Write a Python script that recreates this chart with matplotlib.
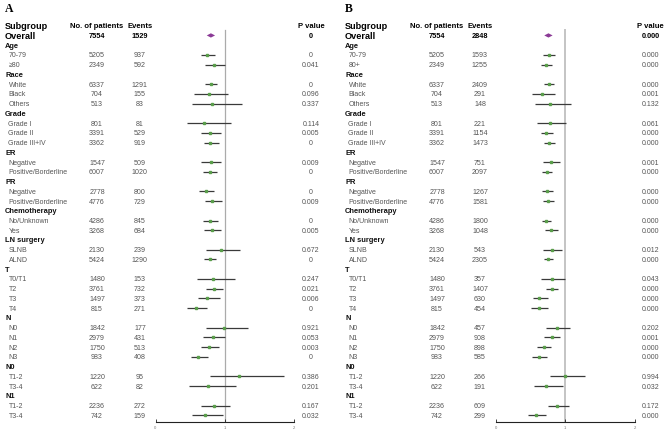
import matplotlib
matplotlib.use("Agg")
import matplotlib.pyplot as plt
from matplotlib import transforms

plt.rcParams['font.family'] = ['Liberation Sans', 'DejaVu Sans']

# ---------------- data ----------------
labels_A = ["Overall", "Age", "70-79", "≥80", "Race", "White", "Black", "Others",
            "Grade", "Grade I", "Grade II", "Grade III+IV", "ER", "Negative",
            "Positive/Borderline", "PR", "Negative", "Positive/Borderline",
            "Chemotherapy", "No/Unknown", "Yes", "LN surgery", "SLNB", "ALND",
            "T", "T0/T1", "T2", "T3", "T4", "N", "N0", "N1", "N2", "N3",
            "N0", "T1-2", "T3-4", "N1", "T1-2", "T3-4"]
labels_B = ["Overall", "Age", "70-79", "80+", "Race", "White", "Black", "Others",
            "Grade", "Grade I", "Grade II", "Grade III+IV", "ER", "Negative",
            "Positive/Borderline", "PR", "Negative", "Positive/Borderline",
            "Chemotherapy", "No/Unknown", "Yes", "LN surgery", "SLNB", "ALND",
            "T", "T0/T1", "T2", "T3", "T4", "N", "N0", "N1", "N2", "N3",
            "N0", "T1-2", "T3-4", "N1", "T1-2", "T3-4"]
row_kind = ["overall", "group", "item", "item", "group", "item", "item", "item",
            "group", "item", "item", "item", "group", "item", "item",
            "group", "item", "item", "group", "item", "item", "group", "item", "item",
            "group", "item", "item", "item", "item", "group", "item", "item", "item", "item",
            "group", "item", "item", "group", "item", "item"]

patients = [7554, 5205, 2349, 6337, 704, 513, 801, 3391, 3362, 1547, 6007,
            2778, 4776, 4286, 3268, 2130, 5424, 1480, 3761, 1497, 815,
            1842, 2979, 1750, 983, 1220, 622, 2236, 742]
events_A = [1529, 937, 592, 1291, 155, 83, 81, 529, 919, 509, 1020,
            800, 729, 845, 684, 239, 1290, 153, 732, 373, 271,
            177, 431, 513, 408, 95, 82, 272, 159]
events_B = [2848, 1593, 1255, 2409, 291, 148, 221, 1154, 1473, 751, 2097,
            1267, 1581, 1800, 1048, 543, 2305, 357, 1407, 630, 454,
            457, 908, 898, 585, 266, 191, 609, 299]

hr_A = [0.80, 0.75, 0.84, 0.80, 0.77, 0.81, 0.70, 0.79, 0.79, 0.80, 0.79, 0.73, 0.82,
        0.78, 0.81, 0.95, 0.78, 0.83, 0.84, 0.75, 0.59, 0.99, 0.83, 0.77, 0.62,
        1.20, 0.76, 0.85, 0.71]
lo_A = [0.74, 0.66, 0.72, 0.71, 0.56, 0.53, 0.45, 0.66, 0.70, 0.66, 0.69, 0.63, 0.71,
        0.68, 0.70, 0.73, 0.70, 0.60, 0.73, 0.61, 0.46, 0.73, 0.68, 0.65, 0.51,
        0.79, 0.49, 0.66, 0.52]
hi_A = [0.86, 0.86, 1.00, 0.89, 1.05, 1.25, 1.09, 0.94, 0.91, 0.95, 0.89, 0.84, 0.96,
        0.90, 0.94, 1.22, 0.87, 1.15, 0.97, 0.93, 0.75, 1.34, 1.01, 0.92, 0.76,
        1.85, 1.16, 1.08, 0.98]
p_A = ["0", "0", "0.041", "0", "0.096", "0.337", "0.114", "0.005", "0", "0.009", "0",
       "0", "0.009", "0", "0.005", "0.672", "0", "0.247", "0.021", "0.006", "0",
       "0.921", "0.053", "0.003", "0", "0.386", "0.201", "0.167", "0.032"]

hr_B = [0.76, 0.77, 0.73, 0.77, 0.67, 0.78, 0.78, 0.73, 0.77, 0.79, 0.74, 0.74, 0.76,
        0.72, 0.80, 0.81, 0.75, 0.81, 0.81, 0.63, 0.63, 0.88, 0.81, 0.69, 0.63,
        1.00, 0.73, 0.89, 0.58]
lo_B = [0.70, 0.68, 0.65, 0.70, 0.53, 0.56, 0.59, 0.65, 0.69, 0.68, 0.67, 0.66, 0.68,
        0.66, 0.71, 0.68, 0.69, 0.65, 0.73, 0.54, 0.51, 0.73, 0.70, 0.60, 0.53,
        0.78, 0.55, 0.75, 0.46]
hi_B = [0.82, 0.85, 0.81, 0.84, 0.86, 1.09, 1.02, 0.82, 0.85, 0.92, 0.81, 0.82, 0.84,
        0.79, 0.90, 0.96, 0.82, 1.00, 0.90, 0.75, 0.75, 1.07, 0.92, 0.79, 0.74,
        1.28, 0.97, 1.05, 0.73]
p_B = ["0.000", "0.000", "0.000", "0.000", "0.001", "0.132", "0.061", "0.000", "0.000",
       "0.001", "0.000", "0.000", "0.000", "0.000", "0.000", "0.012", "0.000", "0.043",
       "0.000", "0.000", "0.000", "0.202", "0.001", "0.000", "0.000", "0.994", "0.032",
       "0.172", "0.000"]

xticks = [0, 1, 2]
header = ["Subgroup", "No. of patients", "Events", "P value"]

# ---------------- layout ----------------
W, H = 669, 435
fig = plt.figure(figsize=(W / 100, H / 100), dpi=100)
fig.patch.set_facecolor("white")

ROW0 = 26.7      # header row pixel y
STEP = 9.74      # pixels per row
AX_TOP = 10.0
AX_BOT = 422.5

GRAY = "#555555"
LINE = "#3a3a3a"
GREEN = "#5a9e4b"
PURPLE = "#8b3a96"


def panel(letter, x0, labels, events, hr, lo, hi, pv, fx0, fx1, pat_x, ev_x, p_x,
          ref_color, ref_lw):
    ax = fig.add_axes([fx0 / W, 1 - AX_BOT / H, (fx1 - fx0) / W, (AX_BOT - AX_TOP) / H])
    rtop = (AX_TOP - ROW0) / STEP
    rbot = (AX_BOT - ROW0) / STEP
    ax.set_ylim(rbot, rtop)
    ax.set_xlim(0, 2)
    ax.patch.set_alpha(0)
    for s in ["top", "left", "right"]:
        ax.spines[s].set_visible(False)
    ax.spines["bottom"].set_linewidth(0.8)
    ax.spines["bottom"].set_color("#222222")
    ax.set_yticks([])
    ax.set_xticks(xticks)
    ax.set_xticklabels([str(t) for t in xticks])
    ax.tick_params(axis="x", direction="in", length=2.5, width=0.6, labelsize=3,
                   labelcolor="#777777", pad=2.5, color="#222222")

    tr = transforms.blended_transform_factory(fig.transFigure, ax.transData)

    def tx(px, y, s, **kw):
        ax.text(px / W, y, s, transform=tr, va="center", clip_on=False, **kw)

    # panel letter
    fig.text(x0 / W, 1 - 9.5 / H, letter, family="Liberation Serif", weight="bold",
             fontsize=8.5, va="center", ha="left")
    # header
    tx(x0, 0, header[0], weight="bold", fontsize=6.6, ha="left")
    tx(pat_x, 0, header[1], weight="bold", fontsize=5.5, ha="center")
    tx(ev_x, 0, header[2], weight="bold", fontsize=5.5, ha="center")
    tx(p_x, 0, header[3], weight="bold", fontsize=5.5, ha="center")

    rows = []
    k = 0
    for i, (lab, kind) in enumerate(zip(labels, row_kind)):
        r = i + 1
        if kind == "group":
            tx(x0, r, lab, weight="bold", fontsize=5.4, ha="left", color="#111111")
            continue
        if kind == "overall":
            tx(x0, r, lab, weight="bold", fontsize=6.6, ha="left")
            tx(pat_x, r, str(patients[k]), weight="bold", fontsize=5.3, ha="center")
            tx(ev_x, r, str(events[k]), weight="bold", fontsize=5.3, ha="center")
            tx(p_x, r, pv[k], weight="bold", fontsize=5.3, ha="center")
        else:
            tx(x0 + 3.5, r, lab, fontsize=5.0, ha="left", color=GRAY)
            tx(pat_x, r, str(patients[k]), fontsize=5.1, ha="center", color=GRAY)
            tx(ev_x, r, str(events[k]), fontsize=5.1, ha="center", color=GRAY)
            tx(p_x, r, pv[k], fontsize=5.0, ha="center", color=GRAY)
        rows.append(r)
        k += 1

    # reference line
    ax.plot([1, 1], [0.45, rbot], color=ref_color, lw=ref_lw, zorder=1, clip_on=False)
    # overall diamond
    r0 = rows[0]
    ax.fill([lo[0], hr[0], hi[0], hr[0]], [r0, r0 - 0.22, r0, r0 + 0.22],
            color=PURPLE, lw=0, zorder=3)
    # CIs and points
    ax.hlines(rows[1:], lo[1:], hi[1:], color=LINE, lw=0.9, zorder=2)
    ax.plot(hr[1:], rows[1:], "s", ms=1.9, color=GREEN, mec=GREEN, zorder=3, lw=0)


panel("A", 5, labels_A, events_A, hr_A, lo_A, hi_A, p_A,
      155.5, 294.0, 97, 140, 311, "#ababab", 0.9)
panel("B", 345, labels_B, events_B, hr_B, lo_B, hi_B, p_B,
      495.7, 634.5, 437, 480, 650.5, "#c4c4c4", 1.4)

fig.savefig("out.png", dpi=100, facecolor="white")
